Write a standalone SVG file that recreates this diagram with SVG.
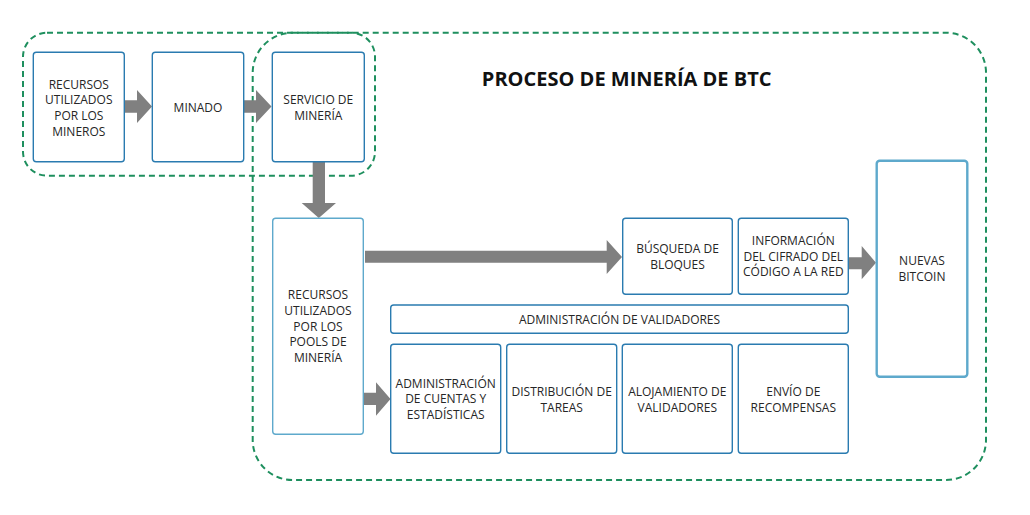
<svg xmlns="http://www.w3.org/2000/svg" width="1030" height="515" viewBox="0 0 1030 515">
<style>
.box{fill:#fff;stroke:#2a7bb0;stroke-width:1.4}
.lbox{fill:#fff;stroke:#5ea9cc;stroke-width:1.4}
.nbox{fill:#fff;stroke:#5ea9cc;stroke-width:2.4}
.grp{fill:none;stroke:#1e8f5e;stroke-width:2;stroke-dasharray:6 4}
.arr{fill:#808080}
text{font-family:"Open Sans","Liberation Sans",sans-serif;font-size:12px;fill:#262626;text-anchor:middle}
.title{font-size:20px;font-weight:bold;fill:#111}
</style>
<rect width="1030" height="515" fill="#fff"/>
<g id="groups">
<rect class="grp" x="252.7" y="32.7" width="733.3" height="447.3" rx="40"/>
<rect class="grp" x="23" y="32.7" width="352" height="143" rx="24"/>
</g>
<text class="title" x="626.7" y="85.5">PROCESO DE MINERÍA DE BTC</text>
<g id="connectors">
<polygon class="arr" points="125,100.3 137,100.3 137,90 152,106.5 137,123 137,112.7 125,112.7"/>
<polygon class="arr" points="244,100.3 256,100.3 256,90 271.5,106.5 256,123 256,112.7 244,112.7"/>
<polygon class="arr" points="312.7,161.5 325,161.5 325,203 336,203 318.8,218 301.7,203 312.7,203"/>
<polygon class="arr" points="365,250.7 606.7,250.7 606.7,240 622,257 606.7,274 606.7,262.7 365,262.7"/>
<polygon class="arr" points="363.5,392.7 376,392.7 376,382.3 390.5,399 376,415.7 376,405 363.5,405"/>
<polygon class="arr" points="848.5,257.3 861.7,257.3 861.7,246 876,262.7 861.7,279.3 861.7,269.3 848.5,269.3"/>
</g>
<g id="n1"><rect class="box" x="33.3" y="52.3" width="91" height="109.4" rx="3"/>
<text x="78.8"><tspan x="78.8" y="88.6">RECURSOS</tspan><tspan x="78.8" y="104.3">UTILIZADOS</tspan><tspan x="78.8" y="120">POR LOS</tspan><tspan x="78.8" y="135.7">MINEROS</tspan></text></g>
<g id="n2"><rect class="box" x="152.3" y="52.3" width="91.4" height="109.4" rx="3"/>
<text x="198" y="112">MINADO</text></g>
<g id="n3"><rect class="box" x="272.3" y="52.3" width="92" height="109.4" rx="3"/>
<text><tspan x="318.3" y="104.3">SERVICIO DE</tspan><tspan x="318.3" y="120">MINERÍA</tspan></text></g>
<g id="n4"><rect class="lbox" x="272.7" y="218.3" width="90.6" height="216" rx="3"/>
<text><tspan x="318" y="299.3">RECURSOS</tspan><tspan x="318" y="315">UTILIZADOS</tspan><tspan x="318" y="330.7">POR LOS</tspan><tspan x="318" y="346.4">POOLS DE</tspan><tspan x="318" y="362.1">MINERÍA</tspan></text></g>
<g id="n5"><rect class="box" x="622.7" y="218.3" width="109.6" height="76" rx="3"/>
<text><tspan x="677.5" y="253.3">BÚSQUEDA DE</tspan><tspan x="677.5" y="269">BLOQUES</tspan></text></g>
<g id="n6"><rect class="box" x="738.3" y="218.3" width="110" height="76" rx="3"/>
<text><tspan x="793.3" y="244.9">INFORMACIÓN</tspan><tspan x="793.3" y="260.6">DEL CIFRADO DEL</tspan><tspan x="793.3" y="276.3">CÓDIGO A LA RED</tspan></text></g>
<g id="n7"><rect class="nbox" x="876.7" y="160.7" width="90.6" height="216" rx="3"/>
<text><tspan x="922" y="265">NUEVAS</tspan><tspan x="922" y="280.7">BITCOIN</tspan></text></g>
<g id="n8"><rect class="box" x="390.7" y="305" width="457.6" height="28.3" rx="3"/>
<text x="619.5" y="324">ADMINISTRACIÓN DE VALIDADORES</text></g>
<g id="n9"><rect class="box" x="390.7" y="344.3" width="110" height="109" rx="3"/>
<text><tspan x="445.7" y="387.6">ADMINISTRACIÓN</tspan><tspan x="445.7" y="403.3">DE CUENTAS Y</tspan><tspan x="445.7" y="419">ESTADÍSTICAS</tspan></text></g>
<g id="n10"><rect class="box" x="506.7" y="344.3" width="110" height="109" rx="3"/>
<text><tspan x="561.7" y="395.8">DISTRIBUCIÓN DE</tspan><tspan x="561.7" y="411.5">TAREAS</tspan></text></g>
<g id="n11"><rect class="box" x="622.3" y="344.3" width="110" height="109" rx="3"/>
<text><tspan x="677.3" y="395.8">ALOJAMIENTO DE</tspan><tspan x="677.3" y="411.5">VALIDADORES</tspan></text></g>
<g id="n12"><rect class="box" x="738.3" y="344.3" width="110" height="109" rx="3"/>
<text><tspan x="793.3" y="395.8">ENVÍO DE</tspan><tspan x="793.3" y="411.5">RECOMPENSAS</tspan></text></g>
</svg>
